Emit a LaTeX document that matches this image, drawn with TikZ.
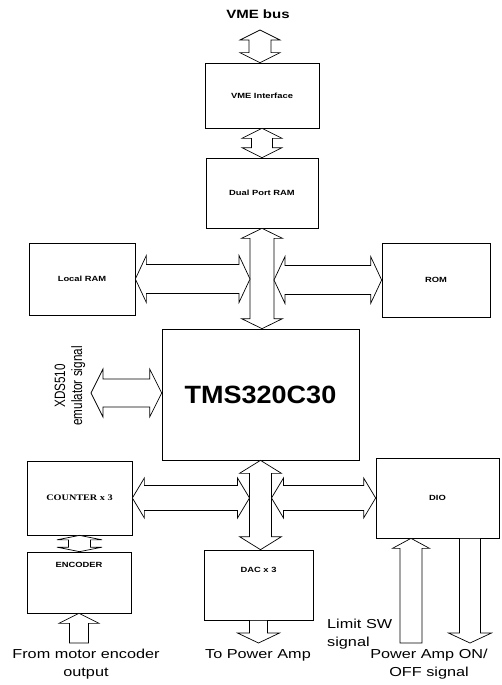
\documentclass[tikz,border=0pt]{standalone}
\usepackage{fontspec}
\setmainfont{Liberation Sans}
\newfontfamily\lblfont[FakeStretch=1.25]{Liberation Sans}
\newfontfamily\rotfont[FakeStretch=0.78]{Liberation Sans}
\newfontfamily\serfont[FakeStretch=1.2]{Liberation Serif}
\newfontfamily\tmsfont[FakeStretch=1.08]{Liberation Sans}
\usetikzlibrary{calc}
\tikzset{
  box/.style={draw, line width=0.7pt, inner sep=0pt, font=\lblfont\bfseries\fontsize{7.5}{9}\selectfont},
  boxlbl/.style={font=\lblfont\bfseries\fontsize{7.5}{9}\selectfont, inner sep=0pt},
  blk/.style={draw, fill=white, line width=0.7pt, line join=miter},
  sig/.style={font=\lblfont\fontsize{13}{18}\selectfont, inner sep=0pt, align=center},
}
% vertical double arrow: top tip #1, bottom tip #2, half shaft #3, half head #4, head length #5
\newcommand\VDbl[5]{\draw[blk] let \p1=#1, \p2=#2 in
  (\x1,\y1) -- (\x1+#4pt,\y1-#5pt) -- (\x1+#3pt,\y1-#5pt) -- (\x1+#3pt,\y2+#5pt) -- (\x1+#4pt,\y2+#5pt)
  -- (\x1,\y2) -- (\x1-#4pt,\y2+#5pt) -- (\x1-#3pt,\y2+#5pt) -- (\x1-#3pt,\y1-#5pt) -- (\x1-#4pt,\y1-#5pt) -- cycle;}
% horizontal double arrow: left tip #1, right tip #2
\newcommand\HDbl[5]{\draw[blk] let \p1=#1, \p2=#2 in
  (\x1,\y1) -- (\x1+#5pt,\y1+#4pt) -- (\x1+#5pt,\y1+#3pt) -- (\x2-#5pt,\y1+#3pt) -- (\x2-#5pt,\y1+#4pt)
  -- (\x2,\y1) -- (\x2-#5pt,\y1-#4pt) -- (\x2-#5pt,\y1-#3pt) -- (\x1+#5pt,\y1-#3pt) -- (\x1+#5pt,\y1-#4pt) -- cycle;}
% up arrow: tip #1 (top), flat bottom #2
\newcommand\VUp[5]{\draw[blk] let \p1=#1, \p2=#2 in
  (\x1,\y1) -- (\x1+#4pt,\y1-#5pt) -- (\x1+#3pt,\y1-#5pt) -- (\x1+#3pt,\y2) -- (\x1-#3pt,\y2)
  -- (\x1-#3pt,\y1-#5pt) -- (\x1-#4pt,\y1-#5pt) -- cycle;}
% down arrow: flat top #1, tip #2 (bottom)
\newcommand\VDown[5]{\draw[blk] let \p1=#1, \p2=#2 in
  (\x1-#3pt,\y1) -- (\x1+#3pt,\y1) -- (\x1+#3pt,\y2+#5pt) -- (\x1+#4pt,\y2+#5pt) -- (\x1,\y2)
  -- (\x1-#4pt,\y2+#5pt) -- (\x1-#3pt,\y2+#5pt) -- cycle;}
\begin{document}
\begin{tikzpicture}[x=1pt,y=-1pt]
\useasboundingbox (0,0) rectangle (501,685);
% boxes
\node[box, minimum width=114pt, minimum height=65pt] (vme) at (262,95.5) {VME Interface};
\node[box, minimum width=112pt, minimum height=70pt] (dpr) at (262,193) {Dual Port RAM};
\node[box, minimum width=106pt, minimum height=72pt] (lram) at (82,279) {Local RAM};
\node[box, minimum width=108pt, minimum height=74pt] (rom) at (436,280) {ROM};
\node[box, minimum width=197pt, minimum height=131pt, font=\tmsfont\bfseries\fontsize{25}{30}\selectfont] (tms) at (260.5,394.5) {TMS320C30};
\node[box, minimum width=105pt, minimum height=74pt, font=\serfont\bfseries\fontsize{8.5}{10}\selectfont] (cnt) at (79.5,498) {COUNTER x 3};
\node[box, minimum width=123pt, minimum height=80pt] (dio) at (437.5,498) {DIO};
\node[box, minimum width=104pt, minimum height=61pt, label={[boxlbl,yshift=18pt]center:ENCODER}] (enc) at (79,582.5) {};
\node[box, minimum width=109pt, minimum height=70pt, label={[boxlbl,yshift=15pt]center:DAC x 3}] (dac) at (258.5,585) {};
% free ends
\coordinate (busin) at (260,30);
\coordinate (xds) at (91,393);
\coordinate (busL) at ($(dpr.south)+(-12,0)$);
\coordinate (busR) at ($(dpr.south)+(12,0)$);
\coordinate (lbusL) at ($(tms.south)+(-11,0)$);
\coordinate (lbusR) at ($(tms.south)+(11,0)$);
\coordinate (encin) at (79,643);
\coordinate (dacout) at (261,643);
\coordinate (limsw) at (411,643);
\coordinate (pwron) at (470,643);
% arrows
\VDbl{(busin)}{(vme.north)}{11}{20}{10}
\VDbl{(vme.south)}{(dpr.north)}{10.5}{20}{10}
\VDbl{(dpr.south)}{(tms.north)}{12}{20.5}{10}
\HDbl{(lram.east)}{(busL)}{14.5}{23.5}{11}
\HDbl{(busR |- rom.west)}{(rom.west)}{14.5}{23.5}{11}
\HDbl{(xds)}{(tms.west)}{14}{24}{12}
\VDbl{(tms.south)}{(dac.north)}{11}{21}{13}
\HDbl{(cnt.east)}{(lbusL)}{12.5}{20}{12}
\HDbl{(lbusR |- dio.west)}{(dio.west)}{12.5}{20}{12}
\VDbl{(cnt.south)}{(enc.north)}{11}{22.5}{4.5}
\VUp{(enc.south)}{(encin)}{9.5}{20}{10}
\VDown{(dac.south)}{(dacout)}{9}{21}{10}
\VUp{(limsw |- dio.south)}{(limsw)}{11}{18.5}{10}
\VDown{(pwron |- dio.south)}{(pwron)}{10.5}{21.5}{10}
% texts
\node[sig, font=\lblfont\bfseries\fontsize{12}{14}\selectfont] (vmebus) at (258,14) {VME bus};
\node[sig, rotate=90, font=\rotfont\fontsize{15}{17}\selectfont] (xdslbl) at (70,386) {XDS510\\emulator signal};
\node[sig] (fromenc) at (86,664) {From motor encoder\\output};
\node[sig] (topa) at (258,655) {To Power Amp};
\node[sig, align=left, anchor=west] (limlbl) at (327,634) {Limit SW\\signal};
\node[sig] (pwrlbl) at (429,664) {Power Amp ON/\\OFF signal};
\end{tikzpicture}
\end{document}
